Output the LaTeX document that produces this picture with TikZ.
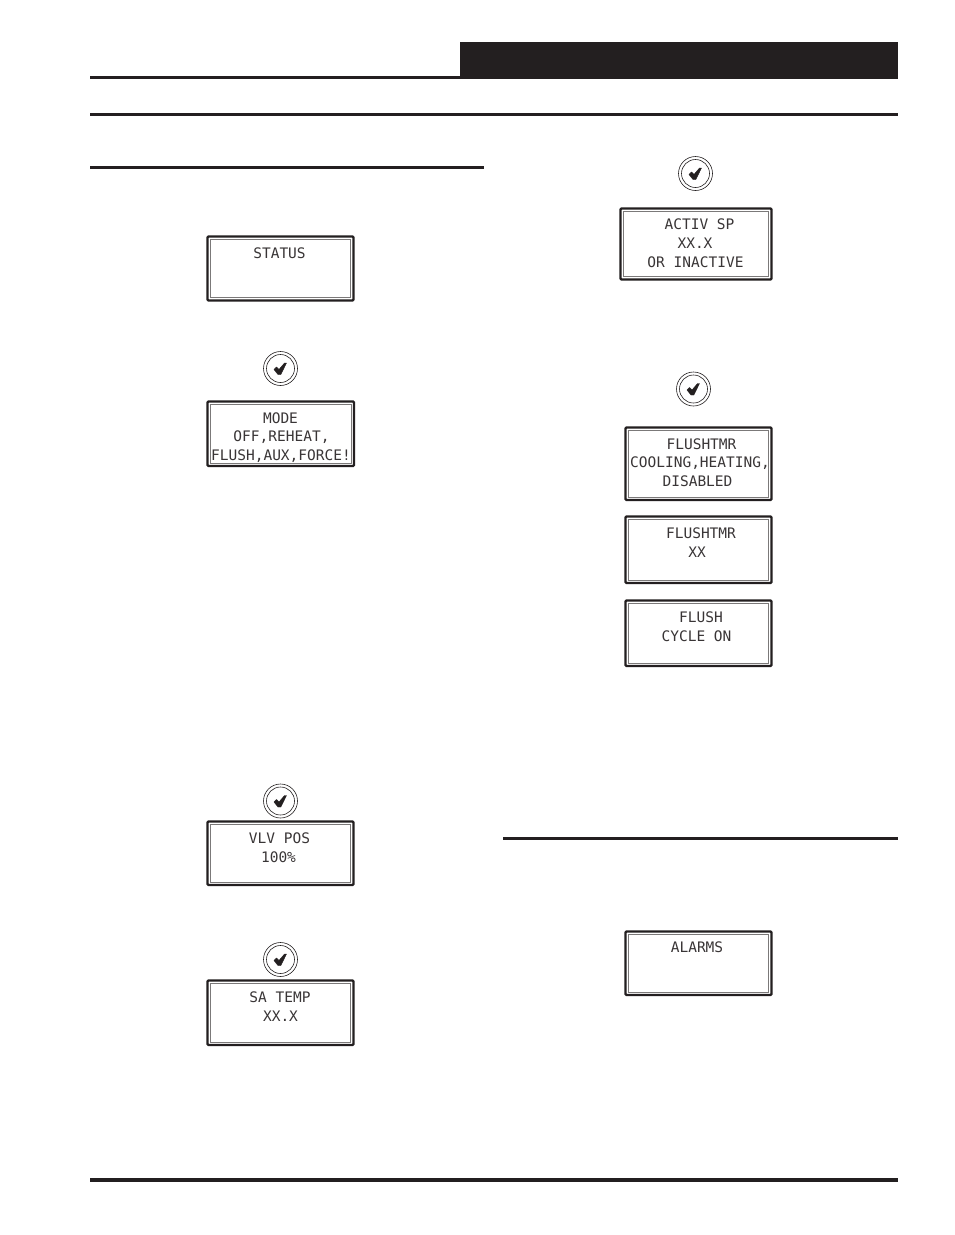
\documentclass[tikz,border=0pt]{standalone}
\usepackage{fontspec}
\setmainfont{DejaVu Sans Mono}
\definecolor{ink}{HTML}{231F20}
\tikzset{x=1pt,y=-1pt,
  rule/.style={fill=ink,draw=none},
  outerbox/.style={draw=ink,line width=2.4pt,rounded corners=1pt,fill=white},
  innerbox/.style={draw=ink!60,line width=0.8pt},
  lcd/.style={font=\fontsize{14.5}{16}\selectfont,text=ink!90,inner sep=0pt,anchor=center,text height=10.5pt,text depth=0pt},
  ring/.style={draw=ink,line width=0.6pt,fill=white,circle,inner sep=0pt,minimum size=#1},
  tick/.style={fill=ink,draw=ink,line width=0.4pt,line join=round}
}
\newcommand{\dispbox}[5]{%
  \draw[outerbox] (#2,#3) rectangle (#4,#5);
  \node[inner sep=0pt,minimum size=0pt] (#1) at ({(#2+#4)/2},{(#3+#5)/2}) {};
  \draw[innerbox] (#2+3,#3+3) rectangle (#4-3,#5-3);
}
\newcommand{\lcdline}[4]{\node[lcd] (#1) at (#2,#3) {#4};}
\newcommand{\okbtn}[3]{%
  \node[ring=34pt] (#1) at (#2,#3) {};
  \node[ring=28pt] at (#2,#3) {};
  \fill[tick] (#2-6.5,#3+1) -- (#2-4,#3-1.5) -- (#2-1.5,#3+1) -- (#2+4,#3-5.5) -- (#2+6,#3-5.5) -- (#2+0.3,#3+6) -- (#2-2.5,#3+6) -- cycle;
}
\begin{document}
\begin{tikzpicture}
\useasboundingbox (0,0) rectangle (954,1235);
\fill[white] (0,0) rectangle (954,1235);
% header and rules
\fill[rule] (460,42) rectangle (898,79);
\fill[rule] (90,76) rectangle (460,79);
\fill[rule] (90,113) rectangle (898,116);
\fill[rule] (90,166) rectangle (484,169);
\fill[rule] (503,837) rectangle (898,840);
\fill[rule] (90,1177.5) rectangle (898,1181.5);
% left column
\dispbox{status}{207.5}{236.5}{353.5}{300.5}
\lcdline{t1}{279.5}{253.5}{STATUS}
\okbtn{ok1}{280.5}{368.5}
\dispbox{mode}{207.5}{401.5}{354}{466}
\lcdline{t2}{280.5}{418.5}{MODE}
\lcdline{t3}{281.5}{436.5}{OFF,REHEAT,}
\lcdline{t4}{281}{455.5}{FLUSH,AUX,FORCE!}
\okbtn{ok2}{280.5}{801}
\dispbox{vlv}{207.5}{821.5}{353.5}{885}
\lcdline{t5}{279.5}{838.5}{VLV POS}
\lcdline{t6}{278.5}{857}{100\%}
\okbtn{ok3}{280.5}{959.5}
\dispbox{sa}{207.5}{980.5}{353.5}{1045}
\lcdline{t7}{280}{997.5}{SA TEMP}
\lcdline{t8}{280.5}{1016.5}{XX.X}
% right column
\okbtn{ok4}{695.5}{173.5}
\dispbox{activ}{620.5}{208.5}{771.5}{279.5}
\lcdline{t9}{699.5}{224.5}{ACTIV SP}
\lcdline{t10}{695}{243.5}{XX.X}
\lcdline{t11}{695.5}{262.5}{OR INACTIVE}
\okbtn{ok5}{693.5}{389}
\dispbox{ftmr}{625.5}{427.5}{771.5}{500}
\lcdline{t12}{701.5}{444.5}{FLUSHTMR}
\lcdline{t13}{700}{462.5}{COOLING,HEATING,}
\lcdline{t14}{697.5}{481.5}{DISABLED}
\dispbox{ftmrb}{625.5}{516.5}{771.5}{583}
\lcdline{t15}{701}{533.5}{FLUSHTMR}
\lcdline{t16}{697}{552.5}{XX}
\dispbox{fcyc}{625.5}{600.5}{771.5}{666}
\lcdline{t17}{701}{617.5}{FLUSH}
\lcdline{t18}{696.5}{636.5}{CYCLE ON}
\dispbox{alarms}{625.5}{931.5}{771.5}{995}
\lcdline{t19}{697}{947.5}{ALARMS}
\end{tikzpicture}
\end{document}
